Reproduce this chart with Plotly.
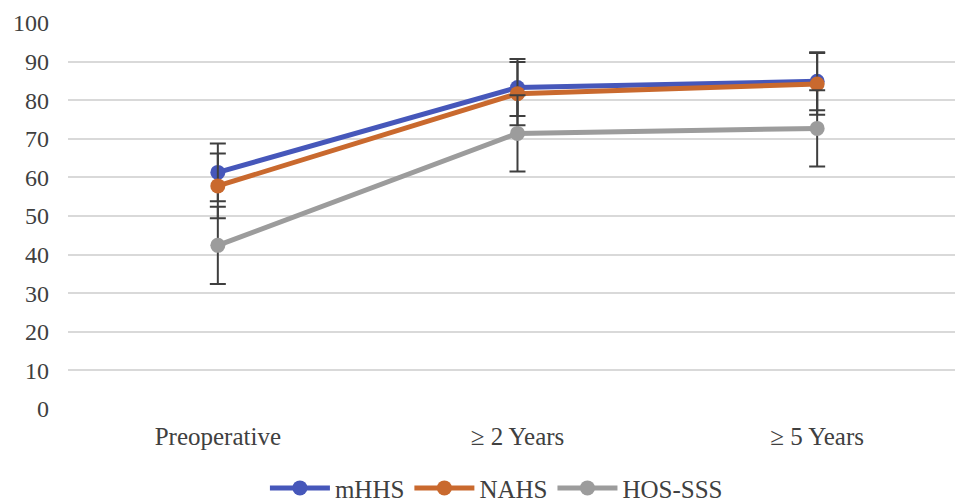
import plotly.graph_objects as go

categories = ["Preoperative", "\u2265 2 Years", "\u2265 5 Years"]
mhhs = [61.3, 83.3, 84.9]
mhhs_sd = [7.5, 7.4, 7.5]
nahs = [57.8, 81.7, 84.2]
nahs_sd = [8.4, 8.2, 8.0]
hos = [42.4, 71.4, 72.7]
hos_sd = [10.0, 9.9, 9.9]
y_ticks = [0, 10, 20, 30, 40, 50, 60, 70, 80, 90, 100]

series = [
    ("mHHS", mhhs, mhhs_sd, "#4657BA"),
    ("NAHS", nahs, nahs_sd, "#C9692E"),
    ("HOS-SSS", hos, hos_sd, "#9C9C9C"),
]

fig = go.Figure()
for name, vals, sd, color in series:
    fig.add_trace(go.Scatter(
        x=categories, y=vals, name=name, mode="lines+markers",
        line=dict(color=color, width=5),
        marker=dict(color=color, size=15),
        error_y=dict(type="data", array=sd, visible=True,
                     color="#3F3F3F", thickness=2, width=8),
    ))

font = "Times New Roman, Liberation Serif, DejaVu Serif, serif"
fig.update_layout(
    width=955, height=503,
    margin=dict(l=68, r=0, t=23, b=94, autoexpand=False),
    paper_bgcolor="white", plot_bgcolor="white",
    font=dict(family=font, size=24, color="#404040"),
    showlegend=True,
    legend=dict(orientation="h", x=0.483, xanchor="center", y=-0.205, yanchor="middle",
                font=dict(family=font, size=25, color="#404040"), itemwidth=60,
                tracegroupgap=0),
    xaxis=dict(range=[-0.5, 2.46], showgrid=False, showline=False, zeroline=False,
               automargin=False,
               tickfont=dict(family=font, size=25, color="#404040"), ticks="",
               ticklabelstandoff=10),
    yaxis=dict(range=[0, 100], tickvals=y_ticks, showgrid=True, gridcolor="#D9D9D9",
               gridwidth=2, zeroline=False, showline=False, ticks="", automargin=False,
               tickfont=dict(family=font, size=24, color="#404040"), ticklabelstandoff=18),
)

fig.write_html("out.html", config={"displayModeBar": False},
               post_script="document.body.style.margin='0';document.body.style.padding='0';")
